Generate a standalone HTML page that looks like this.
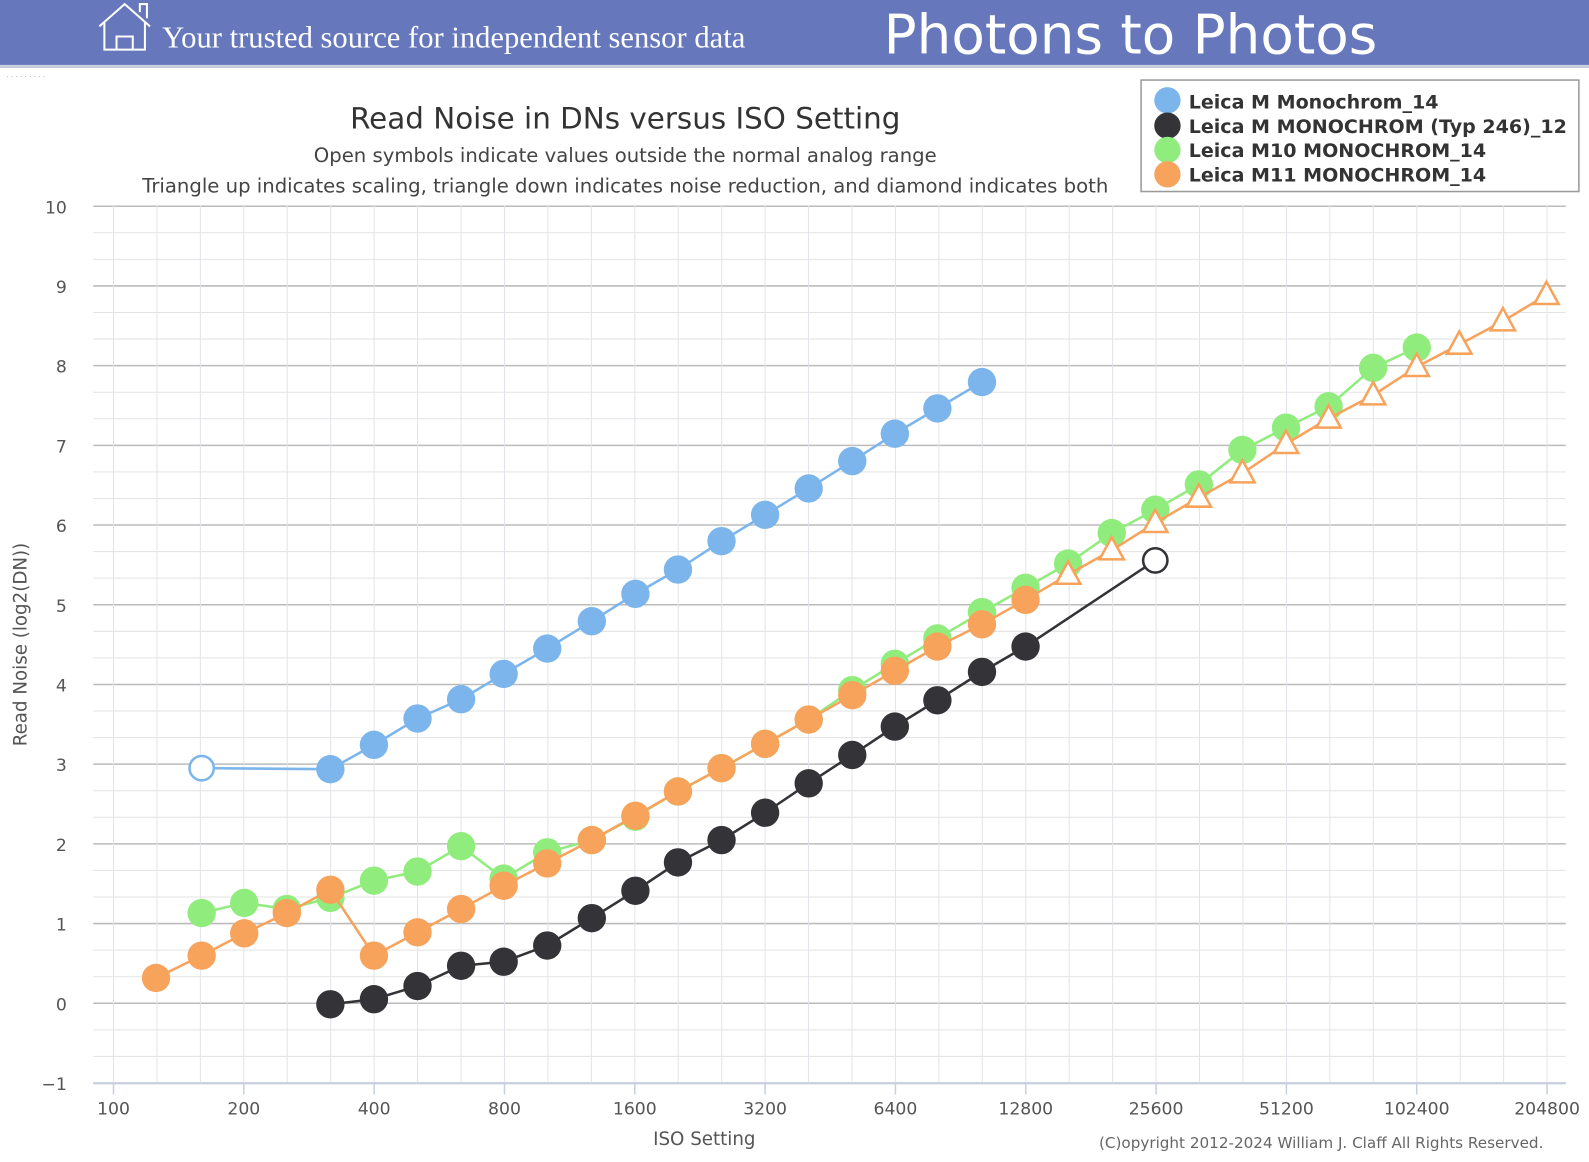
<!DOCTYPE html>
<html><head><meta charset="utf-8"><style>
body{margin:0;width:1589px;height:1162px;background:#fff;overflow:hidden;font-family:"DejaVu Sans","Liberation Sans",sans-serif}
#wrap{position:absolute;left:0;top:0;width:1568px;height:1147px;transform:scale(1.0134);transform-origin:0 0}
#hdr{position:absolute;left:0;top:0;width:1568px;height:64px;background:#6677bb;border-bottom:3px solid #c8cedd}
</style></head><body>
<div id="wrap">
<div id="hdr"></div>
<svg id="s" width="1568" height="1147" style="position:absolute;left:0;top:0">
<g fill="none" stroke="#fff" stroke-width="2">
<path d="M98,26 L123,4 L148,26 M103,22 V49 H143 V22 M115,49 V36 H131 V49 M138,12 V4 H145 V18"/>
</g>
<text x="160" y="47" fill="#fff" font-family="Liberation Serif,serif" font-size="30.2">Your trusted source for independent sensor data</text>
<text x="872" y="53" fill="#fff" font-family="DejaVu Sans,sans-serif" font-size="54">Photons to Photos</text>
<text x="6" y="76" fill="#bbb" font-size="8" letter-spacing="2">.........</text>
<text x="617" y="127" text-anchor="middle" font-size="29" fill="#333">Read Noise in DNs versus ISO Setting</text>
<text x="617" y="160" text-anchor="middle" font-size="19.4" fill="#444">Open symbols indicate values outside the normal analog range</text>
<text x="617" y="190" text-anchor="middle" font-size="19.4" fill="#444">Triangle up indicates scaling, triangle down indicates noise reduction, and diamond indicates both</text>
<g id="grid"></g>
<g id="ser"></g>
<text x="695" y="1130" text-anchor="middle" font-size="18" fill="#555">ISO Setting</text>
<text x="26" y="636" text-anchor="middle" font-size="18" fill="#555" transform="rotate(-90 26 636)">Read Noise (log2(DN))</text>
<text x="1523" y="1133" text-anchor="end" font-size="15" fill="#666">(C)opyright 2012-2024 William J. Claff All Rights Reserved.</text>
<rect x="1126" y="79" width="432" height="110" fill="#fff" stroke="#999" stroke-width="1.5"/>
<g font-size="18.8" font-weight="bold" fill="#333">
<circle cx="1152" cy="99" r="13" fill="#7cb5ec"/><text x="1173" y="107">Leica M Monochrom_14</text>
<circle cx="1152" cy="124" r="13" fill="#333338"/><text x="1173" y="131">Leica M MONOCHROM (Typ 246)_12</text>
<circle cx="1152" cy="148" r="13" fill="#90ed7d"/><text x="1173" y="155">Leica M10 MONOCHROM_14</text>
<circle cx="1152" cy="172" r="13" fill="#f7a35c"/><text x="1173" y="179">Leica M11 MONOCHROM_14</text>
</g>
</svg>
</div>
<script>
const NS="http://www.w3.org/2000/svg";
function el(p,t,a,txt){const e=document.createElementNS(NS,t);for(const k in a)e.setAttribute(k,a[k]);if(txt!==undefined)e.textContent=txt;p.appendChild(e);return e;}
const g=document.getElementById('grid'),S=document.getElementById('ser');
const X=i=>112+i*128.6/3, Y=v=>990-78.65*v;
for(let k=0;k<=33;k++){const y=Y(10-k/3);const maj=k%3==0;
 el(g,'line',{x1:92,x2:1545,y1:y,y2:y,stroke:maj?'#bbb':'#e3e3e3','stroke-width':maj?1.5:1});}
for(let i=0;i<=34;i++){const x=X(i);el(g,'line',{x1:x,x2:x,y1:203,y2:1069,stroke:'#e0e4ea','stroke-width':1});}
el(g,'line',{x1:92,x2:1545,y1:1069,y2:1069,stroke:'#c7d0df','stroke-width':2});
const isos=['100','200','400','800','1600','3200','6400','12800','25600','51200','102400','204800'];
isos.forEach((t,j)=>{const x=X(j*3);el(g,'line',{x1:x,x2:x,y1:1069,y2:1080,stroke:'#c7d0df','stroke-width':1.5});
 el(g,'text',{x:x,y:1100,'text-anchor':'middle','font-size':17,fill:'#555'},t);});
for(let v=-1;v<=10;v++)el(g,'text',{x:66,y:Y(v)+7,'text-anchor':'end','font-size':17,fill:'#555'},v==-1?'\u22121':String(v));
function series(col,pts){
 el(S,'polyline',{points:pts.map(p=>p[0]+','+p[1]).join(' '),fill:'none',stroke:col,'stroke-width':2.5});
 pts.forEach(p=>{if(p[2]==2)el(S,'path',{d:`M${p[0]},${p[1]-13}L${p[0]+12},${p[1]+9}L${p[0]-12},${p[1]+9}Z`,fill:'#fff',stroke:col,'stroke-width':2.5});
 else if(p[2]==1)el(S,'circle',{cx:p[0],cy:p[1],r:12,fill:'#fff',stroke:col,'stroke-width':2.5});
 else el(S,'circle',{cx:p[0],cy:p[1],r:14,fill:col});});}
const P=a=>a.map(q=>[q[0],q[1],q[2]||0]);
series('#7cb5ec',P([[199,758,1],[326,759],[369,735],[412,709],[455,690],[497,665],[540,640],[584,613],[627,586],[669,562],[712,534],[755,508],[798,482],[841,455],[883,428],[925,403],[969,377]]));
series('#90ed7d',P([[199,901],[241,891],[283,897],[326,886],[369,869],[412,860],[455,835],[497,867],[540,841],[584,829],[627,806],[669,781],[712,758],[755,734],[798,710],[841,681],[883,655],[925,630],[969,604],[1012,580],[1054,556],[1097,526],[1140,503],[1183,478],[1226,444],[1269,422],[1311,401],[1355,363],[1398,343]]));
series('#f7a35c',P([[154,965],[199,943],[241,921],[283,901],[326,878],[369,943],[412,920],[455,897],[497,874],[540,852],[584,829],[627,805],[669,781],[712,758],[755,734],[798,710],[841,686],[883,662],[925,638],[969,616],[1012,592],[1054,567,2],[1097,543,2],[1140,516,2],[1183,491,2],[1226,467,2],[1269,438,2],[1311,413,2],[1355,390,2],[1398,362,2],[1440,340,2],[1483,317,2],[1526,291,2]]));
series('#333338',P([[326,991],[369,986],[412,973],[455,953],[497,949],[540,933],[584,906],[627,879],[669,851],[712,829],[755,802],[798,773],[841,745],[883,717],[925,691],[969,663],[1012,638],[1140,553,1]]));
</script>
</body></html>
